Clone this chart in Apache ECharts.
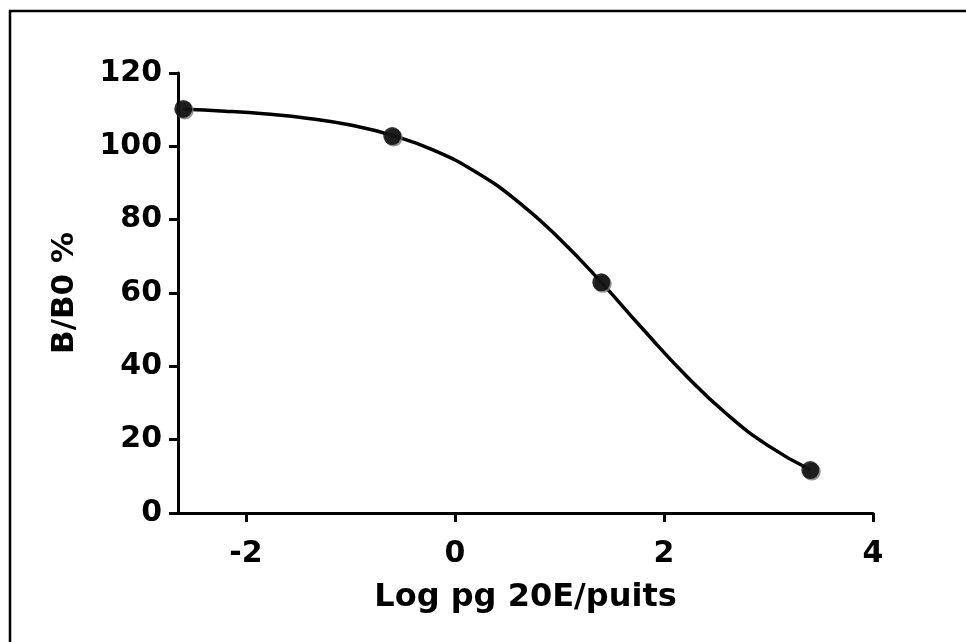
<!DOCTYPE html>
<html>
<head>
<meta charset="utf-8">
<script src="https://cdn.jsdelivr.net/npm/echarts@6/dist/echarts.min.js"></script>
<style>
  html, body { margin: 0; padding: 0; background: #fff; }
  #chart { width: 966px; height: 642px; }
</style>
</head>
<body>
<div id="chart"></div>
<script>
// measured points (log dose, B/B0 %)
const doseLog = [-2.6, -0.6, 1.4, 3.4]
const bb0 = [110.2, 102.8, 62.9, 11.7]

// fitted curve
const curveX = [-2.6, -2.2, -1.8, -1.4, -1.0, -0.6, -0.2, 0.2, 0.6, 1.0, 1.4, 1.8, 2.2, 2.6, 3.0, 3.4]
const curveY = [110.1, 109.6, 108.8, 107.6, 105.8, 103.0, 98.9, 93.0, 85.0, 74.8, 62.9, 50.1, 37.8, 27.0, 18.3, 11.8]

const xTicks = [-2, 0, 2, 4]
const yTicks = [0, 20, 40, 60, 80, 100, 120]

const chart = echarts.init(document.getElementById('chart'))
const font = 'DejaVu Sans, Arial, sans-serif'

chart.setOption({
  animation: false,
  backgroundColor: '#fff',
  graphic: [{
    type: 'polyline',
    shape: { points: [[10, 700], [10, 11], [1000, 11]] },
    style: { stroke: '#000', lineWidth: 2.5, fill: null }
  }],
  grid: { left: 178, right: 93, top: 73, bottom: 129 },
  xAxis: {
    type: 'value',
    min: -2.65,
    max: 4,
    name: 'Log pg 20E/puits',
    nameLocation: 'middle',
    nameGap: 69,
    nameTextStyle: { fontFamily: font, fontWeight: 'bold', fontSize: 32, color: '#000' },
    splitLine: { show: false },
    axisLine: { show: true, onZero: false, lineStyle: { color: '#000', width: 3 } },
    axisTick: { show: true, length: 9, lineStyle: { color: '#000', width: 3 },
      customValues: xTicks },
    axisLabel: { fontFamily: font, fontWeight: 'bold', fontSize: 30, color: '#000', margin: 26,
      customValues: xTicks, formatter: v => String(v) }
  },
  yAxis: {
    type: 'value',
    min: 0,
    max: 120,
    interval: 20,
    name: 'B/B0 %',
    nameLocation: 'middle',
    nameGap: 98,
    nameTextStyle: { fontFamily: font, fontWeight: 'bold', fontSize: 31, color: '#000' },
    splitLine: { show: false },
    axisLine: { show: true, onZero: false, lineStyle: { color: '#000', width: 3 } },
    axisTick: { show: true, length: 9, lineStyle: { color: '#000', width: 3 } },
    axisLabel: { fontFamily: font, fontWeight: 'bold', fontSize: 30, color: '#000', margin: 16,
      formatter: v => yTicks.includes(v) ? String(v) : '' }
  },
  series: [
    {
      type: 'line',
      data: curveX.map((x, i) => [x, curveY[i]]),
      smooth: true,
      showSymbol: false,
      lineStyle: { color: '#000', width: 3.5 },
      z: 2
    },
    {
      type: 'scatter',
      data: doseLog.map((x, i) => [x, bb0[i]]),
      symbol: 'circle',
      symbolSize: 18,
      itemStyle: {
        color: '#000',
        shadowColor: '#777',
        shadowBlur: 0,
        shadowOffsetX: 1.5,
        shadowOffsetY: 1.5
      },
      z: 3
    }
  ]
})
</script>
</body>
</html>
